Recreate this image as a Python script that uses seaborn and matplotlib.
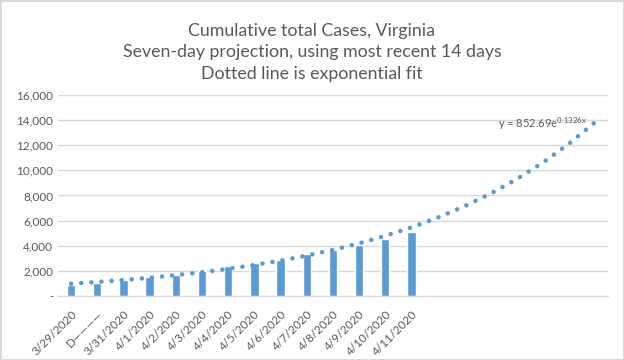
import numpy as np
import pandas as pd
import matplotlib
matplotlib.use('Agg')
import matplotlib.pyplot as plt
import seaborn as sns

# daily cumulative cases, 3/29 .. 4/11
dates = ['3/29/2020', 'D\u2014\u2014\u2014\u2014', '3/31/2020', '4/1/2020', '4/2/2020', '4/3/2020',
         '4/4/2020', '4/5/2020', '4/6/2020', '4/7/2020', '4/8/2020', '4/9/2020',
         '4/10/2020', '4/11/2020']
cases = [890, 1020, 1250, 1484, 1706, 2012, 2407, 2637, 2878, 3333, 3645, 4042, 4509, 5077]
# exponential trendline shown on the chart, 7 day forecast
fit_a = 852.69
fit_b = 0.1326
forecast_days = 7

blue = '#5B9BD5'
gray = '#595959'

sns.set_style('white')
plt.rcParams['font.family'] = ['Lato', 'DejaVu Sans']
plt.rcParams['mathtext.fontset'] = 'custom'
plt.rcParams['mathtext.rm'] = 'Lato'

df = pd.DataFrame({'pos': np.arange(len(cases)), 'cases': cases})
n_total = len(cases) + forecast_days
trend = pd.DataFrame({'pos': np.arange(n_total)})
trend['y'] = fit_a * np.exp(fit_b * (trend['pos'] + 1))

fig = plt.figure(figsize=(6.24, 3.6), dpi=100)
fig.patch.set_edgecolor('#D9D9D9')
fig.patch.set_linewidth(2)
ax = fig.add_axes([0.093, 0.178, 0.881, 0.558])

sns.barplot(data=df, x='pos', y='cases', color=blue, width=0.32, saturation=1, ax=ax, zorder=2)
sns.lineplot(data=trend, x='pos', y='y', ax=ax, color=blue, linewidth=3.3,
             linestyle=(0, (0.01, 2.2)), dash_capstyle='round', zorder=3)

ax.set_xlim(-0.5, n_total - 0.5)
ax.set_ylim(0, 16000)
ax.set_yticks(np.arange(0, 16001, 2000))
ax.set_yticklabels(['-' if v == 0 else f'{v:,}' for v in range(0, 16001, 2000)])
ax.set_xticks(np.arange(len(dates)))
ax.set_xticklabels(dates, rotation=45, ha='right', rotation_mode='anchor')
ax.tick_params(axis='both', colors=gray, labelsize=8.5, length=0)
ax.tick_params(axis='x', pad=9)
ax.grid(axis='y', color='#D9D9D9', linewidth=1, zorder=0)
ax.set_axisbelow(True)
for s in ['top', 'right', 'left']:
    ax.spines[s].set_visible(False)
ax.spines['bottom'].set_color('#D9D9D9')
ax.set_xlabel('')
ax.set_ylabel('')

ax.text(19.7, 13750, r'y = 852.69e$^{\mathrm{0.1326x}}$', ha='right', va='center',
        color=gray, fontsize=8)

fig.text(0.5, 0.915, 'Cumulative total Cases, Virginia', ha='center', va='center',
         color=gray, fontsize=12.8)
fig.text(0.5, 0.855, 'Seven-day projection, using most recent 14 days', ha='center',
         va='center', color=gray, fontsize=12.8)
fig.text(0.5, 0.795, 'Dotted line is exponential fit', ha='center', va='center',
         color=gray, fontsize=12.8)

fig.savefig('out.png', dpi=100)
